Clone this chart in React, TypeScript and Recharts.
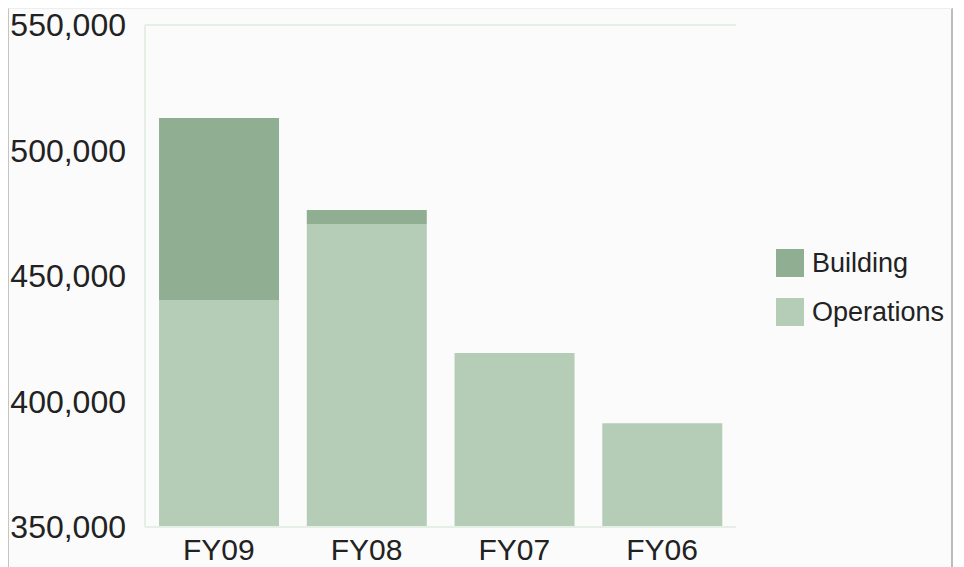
import { BarChart, Bar, XAxis, YAxis, ReferenceLine } from 'recharts';

const categories = ['FY09', 'FY08', 'FY07', 'FY06'];
const operations = [440400, 470700, 419300, 391300];
const building = [72500, 5600, 0, 0];
const yTicks = [350000, 400000, 450000, 500000, 550000];

const BUILDING = '#90ae91';
const OPERATIONS = '#b5cdb7';
const AXIS = '#e6efe6';

const chartData = categories.map((cat, i) => ({
  name: cat,
  Operations: operations[i],
  Building: building[i],
}));

function LegendBox() {
  const items = [
    { label: 'Building', color: BUILDING },
    { label: 'Operations', color: OPERATIONS },
  ];
  return (
    <div style={{ position: 'absolute', left: 776, top: 249 }}>
      {items.map((it) => (
        <div key={it.label} style={{ display: 'flex', alignItems: 'center', height: 28, marginBottom: 21 }}>
          <div style={{ width: 28, height: 28, background: it.color }} />
          <span style={{ marginLeft: 8, fontSize: 27, color: '#222', fontFamily: '"Liberation Sans", Arial, sans-serif' }}>
            {it.label}
          </span>
        </div>
      ))}
    </div>
  );
}

export default function App() {
  return (
    <div style={{ position: 'absolute', left: 0, top: 0, width: 964, height: 567, background: '#fff', overflow: 'hidden' }}>
      <div
        style={{
          position: 'absolute',
          left: 8,
          top: 8,
          width: 942,
          height: 600,
          background: '#fbfbfb',
          borderLeft: '1px solid #c4c4c4',
          borderRight: '2px solid #bdbdbd',
          borderTop: '1px solid #eeeeee',
        }}
      />
      <div style={{ position: 'absolute', left: 0, top: 0 }}>
        <BarChart
          width={964}
          height={567}
          data={chartData}
          margin={{ top: 25, right: 228, bottom: 0, left: 0 }}
          barCategoryGap="9.5%"
        >
          <XAxis
            dataKey="name"
            height={40}
            axisLine={{ stroke: AXIS, strokeWidth: 2 }}
            tickLine={false}
            tickSize={0}
            tickMargin={12}
            tick={{ fontSize: 30, fill: '#222', fontFamily: '"Liberation Sans", Arial, sans-serif' }}
          />
          <YAxis
            width={145}
            domain={[350000, 550000]}
            ticks={yTicks}
            allowDataOverflow
            axisLine={{ stroke: AXIS, strokeWidth: 2 }}
            tickLine={false}
            tickSize={0}
            tickMargin={19}
            tickFormatter={(v) => v.toLocaleString('en-US')}
            tick={{ fontSize: 32, fill: '#222', fontFamily: '"Liberation Sans", Arial, sans-serif' }}
          />
          <ReferenceLine y={550000} stroke={AXIS} strokeWidth={2} />
          <Bar dataKey="Operations" stackId="a" fill={OPERATIONS} isAnimationActive={false} />
          <Bar dataKey="Building" stackId="a" fill={BUILDING} isAnimationActive={false} />
        </BarChart>
      </div>
      <LegendBox />
    </div>
  );
}
